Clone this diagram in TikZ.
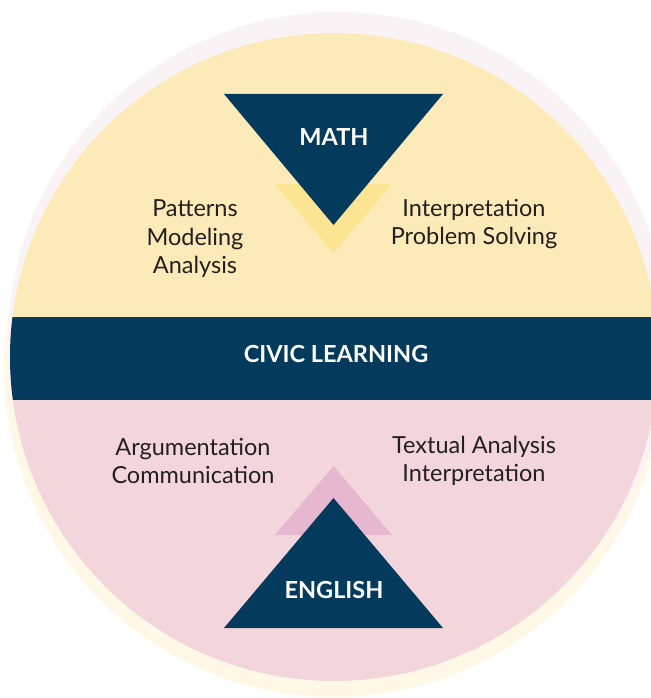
\documentclass[tikz,border=0pt]{standalone}
\usepackage{fontspec}
\setmainfont{Lato}
\definecolor{navy}{HTML}{043A5C}
\definecolor{ylw}{HTML}{FCEBB9}
\definecolor{pnk}{HTML}{F3D6DC}
\definecolor{halop}{HTML}{FAF3F6}
\definecolor{haloy}{HTML}{FFF8E6}
\definecolor{ytri}{HTML}{FCE592}
\definecolor{ptri}{HTML}{E6B8D0}
\definecolor{ink}{HTML}{231F20}
\tikzset{
  lbl/.style={text=ink, font=\fontsize{23.5}{28.5}\selectfont, align=center, inner sep=0pt},
  head/.style={text=white, font=\fontsize{23.5}{26}\selectfont\bfseries, inner sep=0pt}
}
\begin{document}
\begin{tikzpicture}[x=1pt,y=-1pt]
\useasboundingbox (0,0) rectangle (650,698);
% halos
\fill[haloy] (334,367) circle (330);
\fill[halop] (338,342) circle (330);
% main disc
\begin{scope}
\clip (334,357) circle (324);
\fill[ylw] (0,0) rectangle (700,317);
\fill[navy] (0,317) rectangle (700,400);
\fill[pnk] (0,400) rectangle (700,700);
\end{scope}
% math triangles
\fill[ytri] (275,184) -- (392,184) -- (333.5,253) -- cycle;
\fill[navy] (224,94) -- (443,94) -- (333.5,225) -- cycle;
% english triangles
\fill[ptri] (275,535) -- (392,535) -- (333.5,466) -- cycle;
\fill[navy] (224,628) -- (443,628) -- (333.5,498) -- cycle;
% texts
\node[head] (math) at (334,137) {MATH};
\node[head] (civic) at (336,354) {CIVIC LEARNING};
\node[head] (english) at (334,590) {ENGLISH};
\node[lbl] (mleft) at (195,239) {Patterns\\Modeling\\Analysis};
\node[lbl] (mright) at (474,224) {Interpretation\\Problem Solving};
\node[lbl] (eleft) at (193,461) {Argumentation\\Communication};
\node[lbl] (eright) at (474,461) {Textual Analysis\\Interpretation};
\end{tikzpicture}
\end{document}
